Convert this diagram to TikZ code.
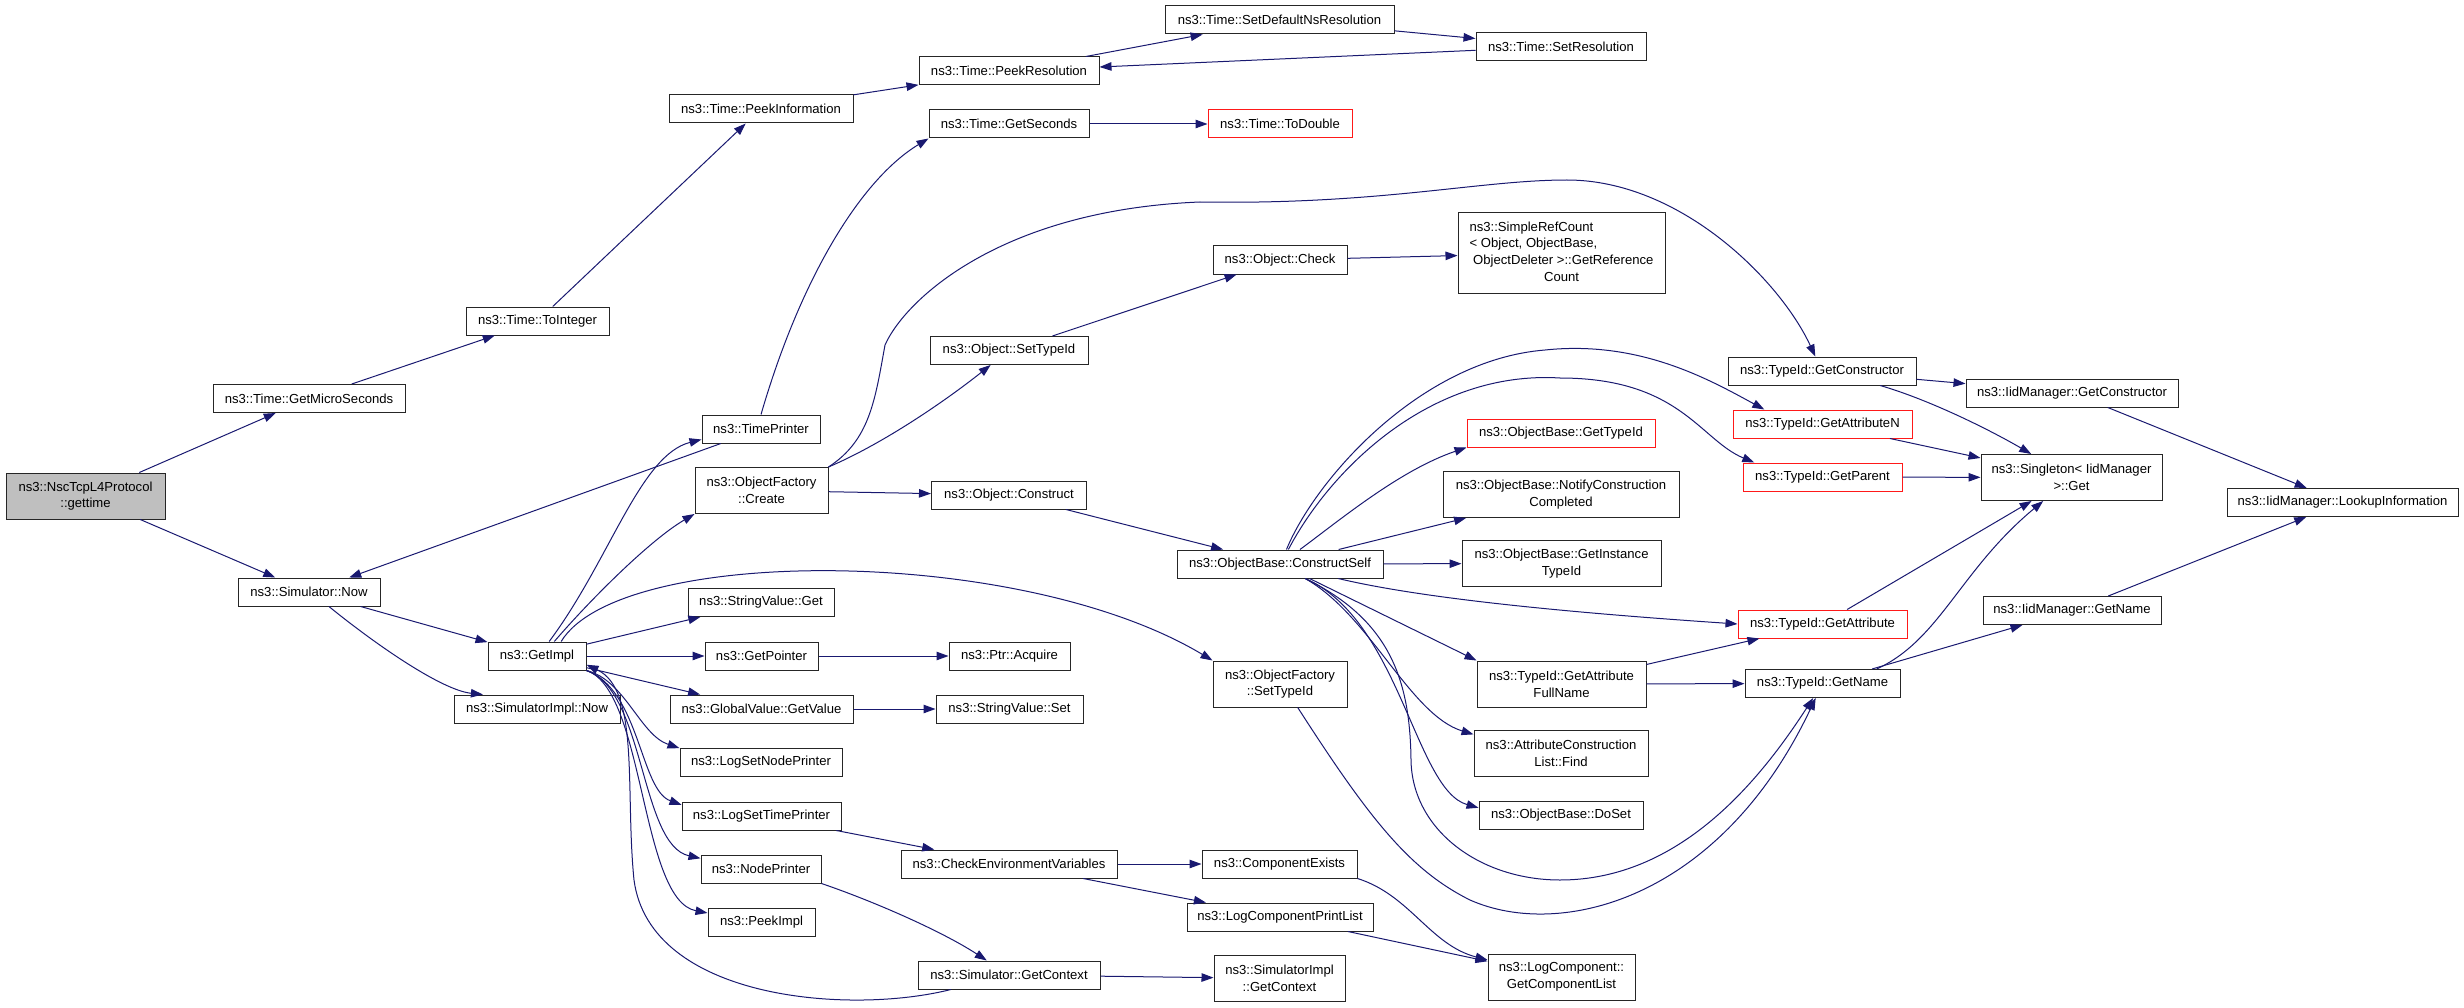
\documentclass[tikz,border=0pt]{standalone}
\usepackage{fontspec}
\usetikzlibrary{
    arrows.meta
}
\newfontfamily\dgfont{Liberation Sans}
\definecolor{edgeblue}{HTML}{191970}
\definecolor{rootgray}{HTML}{BFBFBF}
\tikzset {
    fn/.style = {
        draw = black!85,
        line width = 1pt,
        rectangle,
        inner sep = 2pt,
        minimum width = #1,
        minimum height = 28pt,
        align = center,
        font = \dgfont\fontsize{13.1}{16.7}\selectfont
    },
    fn two/.style = {fn = #1, minimum height = 46pt},
    truncated/.style = {draw = red!90!white},
    root/.style = {fill = rootgray},
    %
    call/.style = {
        draw = edgeblue,
        line width = 1pt,
        arrows = {-Triangle[length = 12pt, width = 8.5pt]}
    }
}

\begin{document}
\begin{tikzpicture}[x = 1pt, y = -1pt]
    \useasboundingbox (0, 0) rectangle (2464, 1008);
    % functions
    \node (gettime) [fn two = 159pt, root] at (85.5, 496) {ns3::NscTcpL4Protocol\\::gettime};
    \node (microsec) [fn = 192pt] at (309, 398.5) {ns3::Time::GetMicroSeconds};
    \node (simnow) [fn = 142pt] at (309, 592) {ns3::Simulator::Now};
    \node (tointeger) [fn = 143pt] at (537.5, 321) {ns3::Time::ToInteger};
    \node (peekinfo) [fn = 184pt] at (761, 109) {ns3::Time::PeekInformation};
    \node (peekres) [fn = 180pt] at (1009, 71) {ns3::Time::PeekResolution};
    \node (setdefres) [fn = 229pt] at (1279.5, 20) {ns3::Time::SetDefaultNsResolution};
    \node (setres) [fn = 170pt] at (1561, 46.5) {ns3::Time::SetResolution};
    \node (getsec) [fn = 160pt] at (1009, 124) {ns3::Time::GetSeconds};
    \node (todouble) [fn = 144pt, truncated] at (1280, 124) {ns3::Time::ToDouble};
    \node (timeprinter) [fn = 118pt] at (761, 429) {ns3::TimePrinter};
    \node (create) [fn two = 133pt] at (761.5, 490.5) {ns3::ObjectFactory\\::Create};
    \node (objsettype) [fn = 158pt] at (1009, 350.5) {ns3::Object::SetTypeId};
    \node (objcheck) [fn = 134pt] at (1280, 260) {ns3::Object::Check};
    \node (refcount) [fn = 207pt, minimum height = 80pt] at (1561.5, 253) {\begin{tabular}{@{}l@{}}ns3::SimpleRefCount\\< Object, ObjectBase,\\\ ObjectDeleter >::GetReference\\\multicolumn{1}{@{}c@{}}{Count}\end{tabular}};
    \node (objconstruct) [fn = 155pt] at (1009, 495) {ns3::Object::Construct};
    \node (getimpl) [fn = 98pt] at (537, 656) {ns3::GetImpl};
    \node (svget) [fn = 146pt] at (761, 602.5) {ns3::StringValue::Get};
    \node (getpointer) [fn = 113pt] at (761.5, 656) {ns3::GetPointer};
    \node (ptracquire) [fn = 121pt] at (1009.5, 656) {ns3::Ptr::Acquire};
    \node (siminow) [fn = 166pt] at (537, 709) {ns3::SimulatorImpl::Now};
    \node (gvget) [fn = 183pt] at (761.5, 709) {ns3::GlobalValue::GetValue};
    \node (svset) [fn = 147pt] at (1009.5, 709) {ns3::StringValue::Set};
    \node (lognode) [fn = 162pt] at (761, 762.5) {ns3::LogSetNodePrinter};
    \node (logtime) [fn = 159pt] at (761.5, 816) {ns3::LogSetTimePrinter};
    \node (nodeprinter) [fn = 120pt] at (761, 869) {ns3::NodePrinter};
    \node (peekimpl) [fn = 107pt] at (761.5, 922.5) {ns3::PeekImpl};
    \node (simctx) [fn = 182pt] at (1009, 975) {ns3::Simulator::GetContext};
    \node (siminctx) [fn two = 131pt] at (1279.5, 978.5) {ns3::SimulatorImpl\\::GetContext};
    \node (ofsettype) [fn two = 134pt] at (1280, 684) {ns3::ObjectFactory\\::SetTypeId};
    \node (checkenv) [fn = 216pt] at (1009, 864) {ns3::CheckEnvironmentVariables};
    \node (compexists) [fn = 155pt] at (1279.5, 864) {ns3::ComponentExists};
    \node (logprint) [fn = 186pt] at (1280, 917) {ns3::LogComponentPrintList};
    \node (constructself) [fn = 206pt] at (1280, 564) {ns3::ObjectBase::ConstructSelf};
    \node (obgettype) [fn = 188pt, truncated] at (1561, 433) {ns3::ObjectBase::GetTypeId};
    \node (notify) [fn two = 236pt] at (1561, 494.5) {ns3::ObjectBase::NotifyConstruction\\Completed};
    \node (instance) [fn two = 199pt] at (1561.5, 563.5) {ns3::ObjectBase::GetInstance\\TypeId};
    \node (fullname) [fn two = 169pt] at (1561.5, 684) {ns3::TypeId::GetAttribute\\FullName};
    \node (find) [fn two = 174pt] at (1561, 753) {ns3::AttributeConstruction\\List::Find};
    \node (doset) [fn = 164pt] at (1561, 815) {ns3::ObjectBase::DoSet};
    \node (complist) [fn two = 147pt] at (1561.5, 977) {ns3::LogComponent::\\GetComponentList};
    \node (tgetctor) [fn = 188pt] at (1822, 371) {ns3::TypeId::GetConstructor};
    \node (getattrn) [fn = 179pt, truncated] at (1822.5, 424) {ns3::TypeId::GetAttributeN};
    \node (getparent) [fn = 159pt, truncated] at (1822.5, 477) {ns3::TypeId::GetParent};
    \node (getattr) [fn = 169pt, truncated] at (1822.5, 624) {ns3::TypeId::GetAttribute};
    \node (tgetname) [fn = 155pt] at (1822.5, 683.5) {ns3::TypeId::GetName};
    \node (iidctor) [fn = 212pt] at (2072, 393) {ns3::IidManager::GetConstructor};
    \node (singleton) [fn two = 181pt] at (2071.5, 477.5) {ns3::Singleton< IidManager\\>::Get};
    \node (iidname) [fn = 178pt] at (2072, 610.5) {ns3::IidManager::GetName};
    \node (lookup) [fn = 231pt] at (2342.5, 502.5) {ns3::IidManager::LookupInformation};
    % calls
    \draw [call] (gettime) -- (microsec);
    \draw [call] (gettime) -- (simnow);
    \draw [call] (microsec) -- (tointeger);
    \draw [call] (tointeger) -- (peekinfo);
    \draw [call] (peekinfo) -- (peekres);
    \draw [call] (peekres) -- (setdefres);
    \draw [call] (setdefres) -- (setres);
    \draw [call] (setres) -- (peekres);
    \draw [call] (timeprinter.north) .. controls (800, 280) and (860, 180) .. (getsec.south west);
    \draw [call] (getsec) -- (todouble);
    \draw [call] (timeprinter) -- (simnow);
    \draw [call] (simnow) -- (getimpl);
    \draw [call] (simnow.-36) .. controls (370, 640) and (440, 690) .. (siminow.165);
    \draw [call] (getimpl.50) .. controls (610, 560) and (640, 455) .. (timeprinter.190);
    \draw [call] (getimpl.40) .. controls (590, 600) and (650, 540) .. (create.south west);
    \draw [call] (getimpl.31) .. controls (620, 545) and (1020, 545) .. (ofsettype.north west);
    \draw [call] (getimpl) -- (svget);
    \draw [call] (getimpl) -- (getpointer);
    \draw [call] (getpointer) -- (ptracquire);
    \draw [call] (getimpl) -- (gvget);
    \draw [call] (gvget) -- (svset);
    \draw [call] (getimpl.south east) .. controls (625, 680) and (640, 735) .. (lognode.170);
    \draw [call] (getimpl.south east) .. controls (640, 690) and (640, 790) .. (logtime.172);
    \draw [call] (getimpl.south east) .. controls (645, 690) and (640, 845) .. (nodeprinter.170);
    \draw [call] (getimpl.south east) .. controls (645, 690) and (640, 900) .. (peekimpl.170);
    \draw [call] (simctx.194) .. controls (850, 1015) and (650, 1000) .. (634, 880)
        .. controls (625, 790) and (640, 690) .. (getimpl.-10);
    \draw [call] (nodeprinter.south east) .. controls (870, 900) and (940, 930) .. (simctx);
    \draw [call] (logtime) -- (checkenv);
    \draw [call] (checkenv) -- (compexists);
    \draw [call] (checkenv) -- (logprint);
    \draw [call] (compexists.south east) .. controls (1410, 895) and (1430, 945) .. (complist.167);
    \draw [call] (logprint) -- (complist);
    \draw [call] (simctx) -- (siminctx);
    \draw [call] (create.north east) .. controls (880, 445) and (940, 405) .. (objsettype);
    \draw [call] (create) -- (objconstruct);
    \draw [call] (create.north east) .. controls (870, 440) and (875, 400) .. (885, 345)
        .. controls (905, 300) and (1000, 210) .. (1200, 202)
        .. controls (1380, 205) and (1480, 180) .. (1567, 180)
        .. controls (1680, 180) and (1780, 280) .. (tgetctor);
    \draw [call] (objsettype) -- (objcheck);
    \draw [call] (objcheck) -- (refcount);
    \draw [call] (objconstruct) -- (constructself);
    \draw [call] (constructself.36) .. controls (1340, 520) and (1400, 470) .. (obgettype.south west);
    \draw [call] (constructself) -- (notify);
    \draw [call] (constructself) -- (instance);
    \draw [call] (constructself.66) .. controls (1315, 480) and (1420, 360) .. (1545, 350)
        .. controls (1640, 340) and (1710, 380) .. (getattrn.166);
    \draw [call] (constructself.60) .. controls (1330, 470) and (1430, 370) .. (1560, 378)
        .. controls (1680, 378) and (1700, 440) .. (getparent.168);
    \draw [call] (constructself.-14) .. controls (1420, 598) and (1560, 612) .. (getattr.west);
    \draw [call] (constructself) -- (fullname.north west);
    \draw [call] (constructself.-30) .. controls (1370, 615) and (1410, 715) .. (find.168);
    \draw [call] (constructself.-30) .. controls (1400, 620) and (1415, 790) .. (doset.175);
    \draw [call] (constructself.-30) .. controls (1390, 620) and (1410, 680) .. (1411, 760)
        .. controls (1412, 830) and (1480, 880) .. (1560, 880)
        .. controls (1680, 880) and (1760, 780) .. (tgetname);
    \draw [call] (ofsettype.-53) .. controls (1370, 820) and (1410, 870) .. (1470, 900)
        .. controls (1560, 940) and (1720, 900) .. (tgetname);
    \draw [call] (fullname) -- (getattr);
    \draw [call] (fullname) -- (tgetname);
    \draw [call] (tgetctor) -- (iidctor);
    \draw [call] (tgetctor.-14) .. controls (1930, 400) and (1990, 430) .. (singleton);
    \draw [call] (getattrn) -- (singleton);
    \draw [call] (getparent) -- (singleton);
    \draw [call] (getattr) -- (singleton);
    \draw [call] (tgetname.15) .. controls (1940, 640) and (1960, 570) .. (singleton);
    \draw [call] (tgetname) -- (iidname);
    \draw [call] (iidctor) -- (lookup);
    \draw [call] (iidname) -- (lookup);
\end{tikzpicture}
\end{document}
